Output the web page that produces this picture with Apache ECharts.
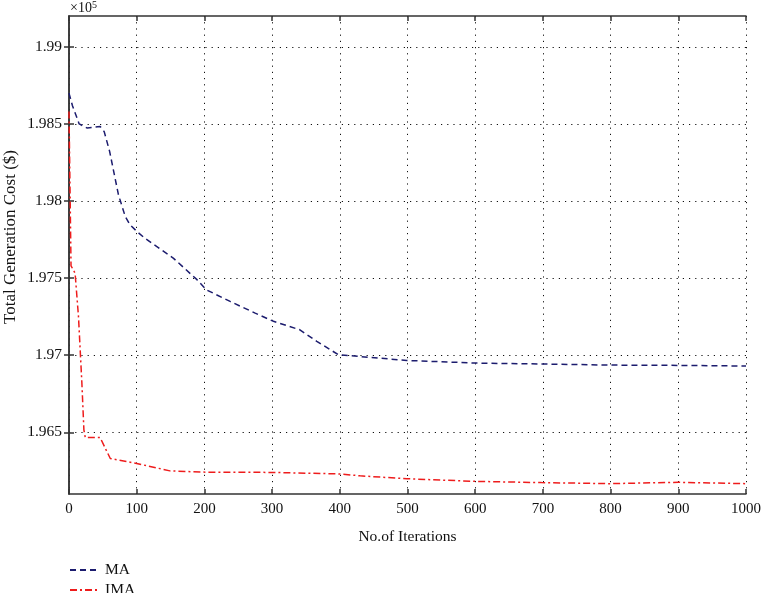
<!DOCTYPE html>
<html>
<head>
<meta charset="utf-8">
<script src="https://cdn.jsdelivr.net/npm/echarts@6/dist/echarts.min.js"></script>
<style>
  html, body { margin: 0; padding: 0; background: #fff; }
  #chart { width: 768px; height: 593px; }
</style>
</head>
<body>
<div id="chart"></div>
<script>
// values in units of 10^5 $
var iterMA = [0, 5, 15, 27, 46, 52, 60, 73, 83, 90, 100, 112, 154, 189, 203, 238, 275, 302, 341, 366, 398, 499, 602, 700, 801, 900, 1000];
var costMA = [1.9870, 1.9862, 1.9850, 1.98473, 1.98484, 1.9845, 1.98322, 1.98041, 1.97901, 1.97847, 1.97804, 1.97759, 1.9763, 1.9749, 1.97424, 1.97349, 1.97273, 1.9722, 1.97165, 1.9709, 1.97003, 1.96966, 1.96949, 1.96943, 1.96936, 1.96934, 1.9693];

var iterIMA = [0, 3, 9, 14, 19, 22, 24, 46, 61, 100, 149, 194, 302, 400, 430, 499, 600, 698, 799, 900, 1000];
var costIMA = [1.9858, 1.9758, 1.97532, 1.97251, 1.96821, 1.96516, 1.96466, 1.96466, 1.9633, 1.96298, 1.9625, 1.96242, 1.9624, 1.9623, 1.96218, 1.96199, 1.96182, 1.96174, 1.96167, 1.96176, 1.96167];

var yTicks = [1.965, 1.97, 1.975, 1.98, 1.985, 1.99];
var seriesNames = ['MA', 'IMA'];

var font = '"Liberation Serif", "DejaVu Serif", serif';

function pairs(xs, ys) {
    var out = [];
    for (var i = 0; i < xs.length; i++) out.push([xs[i], ys[i]]);
    return out;
}

var chart = echarts.init(document.getElementById('chart'));

var axisLineStyle = { color: '#333', width: 1.5 };
var gridDots = { color: '#111', width: 1, type: [1.2, 5] };

var option = {
    backgroundColor: '#fff',
    animation: false,
    textStyle: { fontFamily: font },
    grid: { left: 69, right: 22, top: 16, bottom: 99, containLabel: false, outerBoundsMode: 'none' },
    legend: {
        orient: 'vertical',
        left: 64,
        top: 557,
        height: 80,
        itemWidth: 30,
        itemHeight: 12,
        itemGap: 4,
        itemStyle: { opacity: 0 },
        textStyle: { fontFamily: font, fontSize: 15.5, color: '#111' },
        data: seriesNames
    },
    xAxis: [{
        type: 'value',
        min: 0, max: 1000, interval: 100,
        name: 'No.of Iterations',
        nameLocation: 'middle',
        nameGap: 35,
        nameTextStyle: { fontFamily: font, fontSize: 15.5, color: '#111' },
        axisLine: { show: true, lineStyle: axisLineStyle },
        axisTick: { show: true, inside: true, length: 5, lineStyle: axisLineStyle },
        axisLabel: {
            fontFamily: font, fontSize: 15, color: '#111', margin: 8,
            formatter: function (v) { return String(v); }
        },
        splitLine: { show: true, lineStyle: gridDots }
    }, {
        type: 'value',
        position: 'top',
        min: 0, max: 1000, interval: 100,
        axisLine: { show: true, lineStyle: axisLineStyle },
        axisTick: { show: true, inside: true, length: 5, lineStyle: axisLineStyle },
        axisLabel: { show: false },
        splitLine: { show: false }
    }],
    yAxis: [{
        type: 'value',
        min: 1.961, max: 1.992,
        name: 'Total Generation Cost ($)',
        nameLocation: 'middle',
        nameGap: 50,
        nameMoveOverlap: false,
        nameTextStyle: { fontFamily: font, fontSize: 17, color: '#111', padding: [0, 0, 0, 36] },
        axisLine: { show: true, lineStyle: axisLineStyle },
        axisTick: { show: true, inside: true, length: 5, lineStyle: axisLineStyle, customValues: yTicks },
        axisLabel: {
            fontFamily: font, fontSize: 15.5, color: '#111', margin: 7,
            customValues: yTicks,
            formatter: function (v) { return String(+v.toFixed(3)); }
        },
        splitLine: { show: true, lineStyle: gridDots }
    }, {
        type: 'value',
        position: 'right',
        min: 1.961, max: 1.992,
        axisLine: { show: true, lineStyle: axisLineStyle },
        axisTick: { show: true, inside: true, length: 5, lineStyle: axisLineStyle, customValues: yTicks },
        axisLabel: { show: false, customValues: yTicks },
        splitLine: { show: false }
    }],
    graphic: [{
        type: 'text',
        left: 70,
        top: 0,
        style: {
            text: '×10{sup|5}',
            fontFamily: font, fontSize: 14, fill: '#111',
            rich: { sup: { fontFamily: font, fontSize: 10, verticalAlign: 'top', padding: [0, 0, 7, 0] } }
        }
    }],
    series: [{
        name: seriesNames[0],
        type: 'line',
        symbol: 'none',
        data: pairs(iterMA, costMA),
        lineStyle: { color: '#1c1c6e', width: 1.5, type: [6, 4] },
        itemStyle: { color: '#1c1c6e' }
    }, {
        name: seriesNames[1],
        type: 'line',
        symbol: 'none',
        data: pairs(iterIMA, costIMA),
        lineStyle: { color: '#ee1c1c', width: 1.5, type: [7, 3, 2, 3] },
        itemStyle: { color: '#ee1c1c' }
    }]
};

chart.setOption(option);
</script>
</body>
</html>
